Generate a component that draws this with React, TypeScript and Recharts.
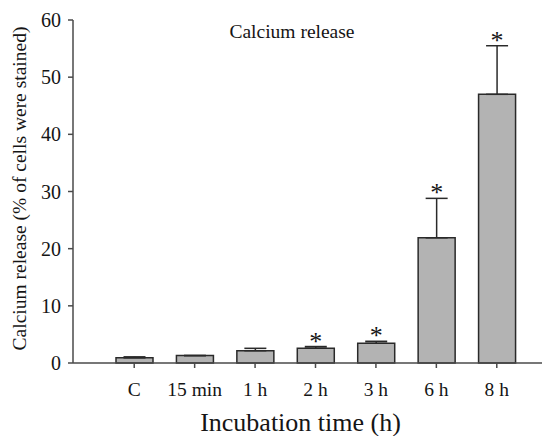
import React from "react";
import { BarChart, Bar, XAxis, YAxis, ErrorBar, LabelList, Label, Customized } from "recharts";

const categories = ["C", "15 min", "1 h", "2 h", "3 h", "6 h", "8 h"];
const means = [0.9, 1.3, 2.15, 2.6, 3.45, 21.9, 47.0];
const sems = [0.18, 0.0, 0.42, 0.28, 0.35, 6.9, 8.5];
const significant = [false, false, false, true, true, true, true];
const yTicks = [0, 10, 20, 30, 40, 50, 60];

const data = categories.map((c, i) => ({
  name: c,
  value: means[i],
  err: [0, sems[i]],
  sig: significant[i],
  sem: sems[i],
}));

const FONT = '"Liberation Serif", "Times New Roman", serif';
const AXIS = "#4a4a4a";
const TEXT = "#151515";

const Asterisk = (props: any) => {
  const { x, y, width, height, index } = props;
  const d = data[index];
  if (!d || !d.sig) return null;
  const perUnit = height / d.value;
  const capY = y - d.sem * perUnit;
  return (
    <text x={x + width / 2} y={capY + 3} textAnchor="middle" style={{ fontFamily: FONT }} fontSize={26} fill={TEXT}>
      *
    </text>
  );
};

const YLabel = (props: any) => {
  const vb = props.viewBox;
  const cx = vb.x + 26;
  const cy = vb.y + vb.height / 2 - 3;
  return (
    <text x={cx} y={cy} transform={`rotate(-90 ${cx} ${cy})`} textAnchor="middle" style={{ fontFamily: FONT }} fontSize={19.5} fill={TEXT}>
      Calcium release (% of cells were stained)
    </text>
  );
};

const XLabel = (props: any) => {
  const vb = props.viewBox;
  const cx = vb.x + vb.width / 2 - 7;
  return (
    <text x={cx} y={431} textAnchor="middle" style={{ fontFamily: FONT }} fontSize={26} fill={TEXT}>
      Incubation time (h)
    </text>
  );
};

const Title = () => (
  <text x={292} y={38} textAnchor="middle" style={{ fontFamily: FONT }} fontSize={19.5} fill={TEXT}>
    Calcium release
  </text>
);

export default function App() {
  return (
    <div style={{ position: "absolute", left: 0, top: 0, background: "#fff", fontFamily: FONT }}>
      <BarChart width={542} height={436} data={data} margin={{ top: 20, right: 0, bottom: 0, left: 0 }} barSize={37} style={{ fontFamily: FONT }}>
        <XAxis
          dataKey="name"
          height={73}
          padding={{ left: 31, right: 15 }}
          axisLine={{ stroke: AXIS, strokeWidth: 1.5 }}
          tickLine={{ stroke: AXIS, strokeWidth: 1.5 }}
          tickSize={5}
          tickMargin={14}
          tick={{ fontFamily: FONT, fontSize: 19.5, fill: TEXT }}
          interval={0}
        >
          <Label content={<XLabel />} />
        </XAxis>
        <YAxis
          width={73}
          domain={[0, 60]}
          ticks={yTicks}
          axisLine={{ stroke: AXIS, strokeWidth: 1.5 }}
          tickLine={{ stroke: AXIS, strokeWidth: 1.5 }}
          tickSize={5}
          tickMargin={7}
          tick={{ fontFamily: FONT, fontSize: 20, fill: TEXT }}
        >
          <Label content={<YLabel />} />
        </YAxis>
        <Bar dataKey="value" fill="#b3b3b3" stroke="#2a2a2a" strokeWidth={1.5} isAnimationActive={false}>
          <ErrorBar dataKey="err" width={11} stroke="#2a2a2a" strokeWidth={1.5} direction="y" />
          <LabelList dataKey="value" content={<Asterisk />} />
        </Bar>
        <Customized component={Title} />
      </BarChart>
    </div>
  );
}
